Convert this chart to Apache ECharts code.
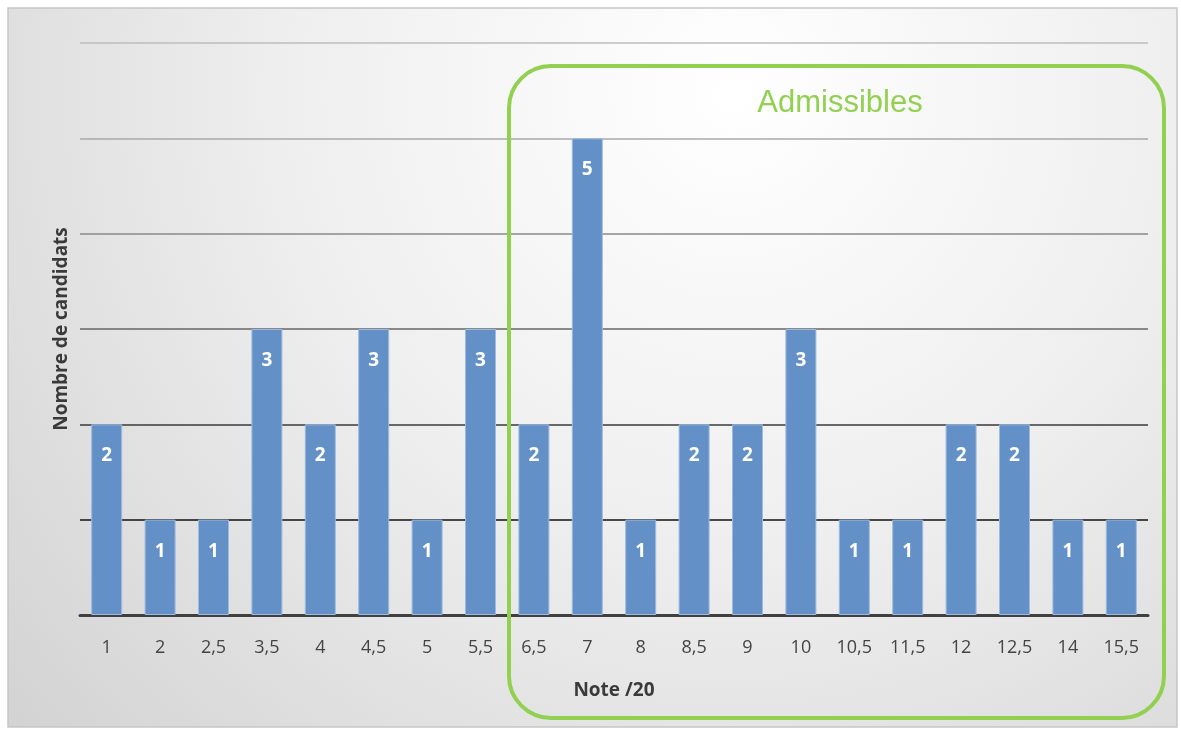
<!DOCTYPE html>
<html><head><meta charset="utf-8">
<script src="https://cdn.jsdelivr.net/npm/echarts@6/dist/echarts.min.js"></script>
<style>html,body{margin:0;padding:0;background:#fff}#c{width:1181px;height:731px}</style>
</head><body><div id="c"></div>
<script>
const categories = ['1','2','2,5','3,5','4','4,5','5','5,5','6,5','7','8','8,5','9','10','10,5','11,5','12','12,5','14','15,5'];
const counts = [2,1,1,3,2,3,1,3,2,5,1,2,2,3,1,1,2,2,1,1];
const chart = echarts.init(document.getElementById('c'));
const font = '"Open Sans", "Noto Sans", sans-serif';
chart.setOption({
  animation: false,
  grid: {left: 80, right: 33, top: 43, bottom: 116},
  graphic: [
    {type: 'rect', z: -10, silent: true, shape: {x: 8, y: 8, width: 1169, height: 719},
     style: {fill: {type: 'radial', x: 0.62, y: 0.12, r: 1.35, colorStops: [{offset: 0, color: '#ffffff'}, {offset: 0.45, color: '#efefef'}, {offset: 1, color: '#d2d2d2'}]},
       stroke: '#c6c6c6', lineWidth: 1.5}},
    {type: 'rect', z: 10, silent: true, shape: {x: 509, y: 66, width: 655, height: 652, r: 42},
     style: {fill: 'none', stroke: '#92d050', lineWidth: 4}},
    {type: 'text', z: 10, silent: true, x: 840, y: 103,
     style: {text: 'Admissibles', fill: '#92d050', font: '31px "Liberation Sans", Arial, sans-serif', textAlign: 'center', textVerticalAlign: 'middle'}}
  ],
  xAxis: {
    type: 'category', data: categories,
    name: 'Note /20', nameLocation: 'middle', nameGap: 66,
    nameTextStyle: {fontFamily: font, fontSize: 19, fontWeight: 'bold', color: '#3a3a3a'},
    axisLine: {lineStyle: {color: '#404040', width: 3}},
    axisTick: {show: false},
    axisLabel: {fontFamily: font, fontSize: 18, color: '#444', margin: 24, interval: 0}
  },
  yAxis: {
    type: 'value', min: 0, max: 6, interval: 1,
    name: 'Nombre de candidats', nameLocation: 'middle', nameGap: 9,
    nameTextStyle: {fontFamily: font, fontSize: 19, fontWeight: 'bold', color: '#3a3a3a'},
    axisLine: {show: false}, axisTick: {show: false},
    axisLabel: {show: false},
    splitLine: {lineStyle: {width: 1.5, color: ['#404040', '#111111', '#3a3a3a', '#666666', '#8a8a8a', '#a8a8a8', '#bdbdbd']}}
  },
  series: [{
    type: 'bar', data: counts, barWidth: 31,
    itemStyle: {color: '#6391c7', borderColor: '#9dbbe0', borderWidth: 1},
    label: {show: true, position: 'insideTop', distance: 22, color: '#fff', fontFamily: font, fontWeight: 'bold', fontSize: 19}
  }]
});
</script></body></html>
